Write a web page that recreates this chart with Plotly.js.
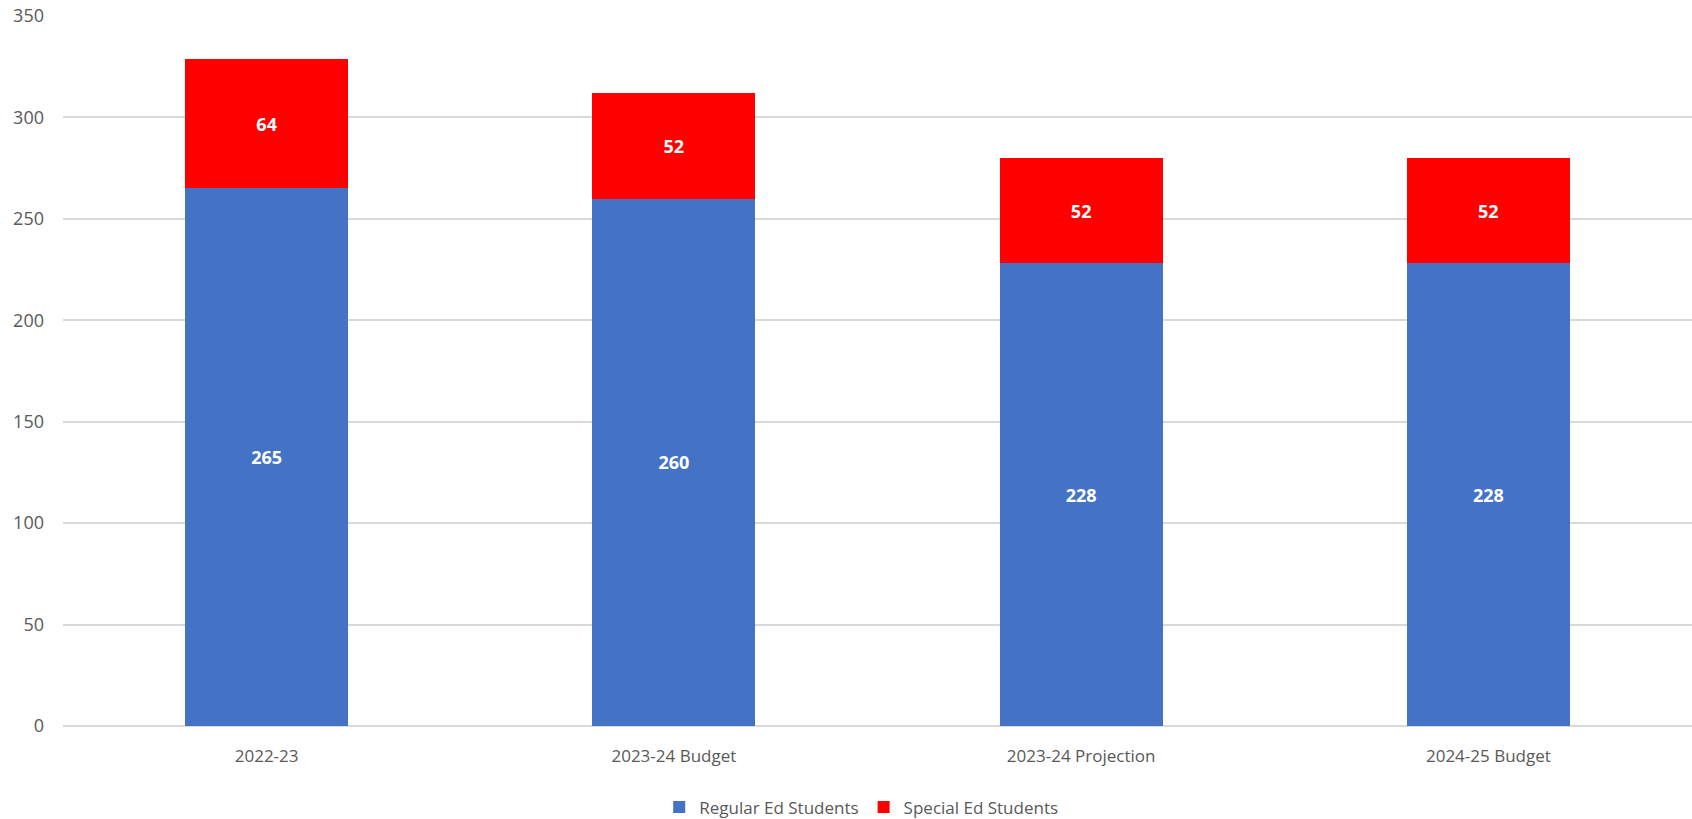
<!DOCTYPE html>
<html>
<head>
<meta charset="utf-8">
<script src="https://cdn.plot.ly/plotly-3.0.1.min.js"></script>
<style>
  html, body { margin: 0; padding: 0; background: #ffffff; }
  #chart { width: 1692px; height: 819px; }
</style>
</head>
<body>
<div id="chart"></div>
<script>
const categories = ["2022-23", "2023-24 Budget", "2023-24 Projection", "2024-25 Budget"];
const regularEd = [265, 260, 228, 228];
const specialEd = [64, 52, 52, 52];
const yTicks = [0, 50, 100, 150, 200, 250, 300, 350];

const labelFont = { family: "Open Sans, sans-serif", size: 18, color: "#ffffff", weight: "bold" };

const traces = [
  {
    type: "bar",
    name: "Regular Ed Students",
    x: categories,
    y: regularEd,
    text: regularEd.map(String),
    textposition: "inside",
    insidetextanchor: "middle",
    textangle: 0,
    textfont: labelFont,
    marker: { color: "#4472C4" },
    hoverinfo: "skip"
  },
  {
    type: "bar",
    name: "Special Ed Students",
    x: categories,
    y: specialEd,
    text: specialEd.map(String),
    textposition: "inside",
    insidetextanchor: "middle",
    textangle: 0,
    textfont: labelFont,
    marker: { color: "#FF0000" },
    hoverinfo: "skip"
  }
];

const layout = {
  width: 1692,
  height: 819,
  barmode: "stack",
  bargap: 0.6,
  paper_bgcolor: "#ffffff",
  plot_bgcolor: "#ffffff",
  margin: { l: 63, r: 0, t: 16, b: 93, autoexpand: false },
  font: { family: "Open Sans, sans-serif", size: 17, color: "#595959" },
  xaxis: {
    type: "category",
    showgrid: false,
    showline: false,
    zeroline: false,
    ticks: "",
    ticklabelstandoff: 18,
    automargin: false,
    tickfont: { size: 17, color: "#595959" }
  },
  yaxis: {
    range: [0, 350],
    tickvals: yTicks,
    ticktext: yTicks.map(String),
    showgrid: true,
    gridcolor: "#d9d9d9",
    gridwidth: 2,
    zeroline: true,
    zerolinecolor: "#d9d9d9",
    zerolinewidth: 2,
    showline: false,
    ticks: "",
    ticklabelstandoff: 18,
    automargin: false,
    tickfont: { size: 18, color: "#595959" }
  },
  showlegend: true,
  legend: {
    orientation: "h",
    x: 0.49,
    xanchor: "center",
    yref: "container",
    y: 0.014,
    yanchor: "middle",
    font: { size: 17, color: "#595959" },
    itemwidth: 30,
    traceorder: "normal"
  },
  hovermode: false
};

Plotly.newPlot("chart", traces, layout, { displayModeBar: false, staticPlot: true });
</script>
</body>
</html>
